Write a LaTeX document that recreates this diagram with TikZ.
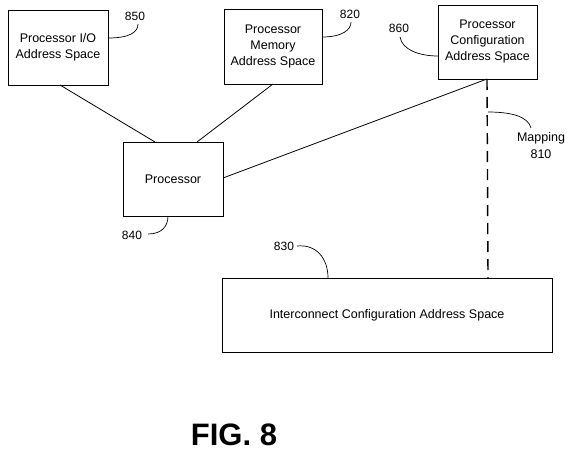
\documentclass[tikz,border=0pt]{standalone}
\usepackage{fontspec}
\setmainfont{Liberation Sans}
\begin{document}
\begin{tikzpicture}[x=1pt,y=-1pt,
  box/.style={draw,line width=0.8pt},
  lbl/.style={font=\fontsize{12.5}{16.3}\selectfont,align=center,inner sep=0pt},
  num/.style={font=\fontsize{12}{14}\selectfont,align=center,inner sep=0pt},
  conn/.style={line width=0.8pt},
  lead/.style={line width=0.7pt}]
\useasboundingbox (0,0) rectangle (569,455);
% boxes
\draw[box] (8,10) rectangle (108,85);
\node[lbl] (io) at (58,47) {Processor I/O\\Address Space};
\draw[box] (224,9) rectangle (322,84);
\node[lbl] (mem) at (273,46.5) {Processor\\Memory\\Address Space};
\draw[box] (438,5) rectangle (537,79);
\node[lbl] (cfg) at (487.5,41.5) {Processor\\Configuration\\Address Space};
\draw[box] (123,142) rectangle (223,216);
\node[lbl] (proc) at (173,179) {Processor};
\draw[box] (222,278) rectangle (552,352);
\node[lbl] (icfg) at (387,315) {Interconnect Configuration Address Space};
% named anchors
\coordinate (ioB) at (60,85);
\coordinate (memB) at (273,84);
\coordinate (cfgB) at (487,79);
\coordinate (procT1) at (155,142);
\coordinate (procT2) at (197,142);
\coordinate (procR) at (223,178);
\coordinate (icT) at (488,278);
% connectors
\draw[conn] (ioB) -- (procT1);
\draw[conn] (memB) -- (procT2);
\draw[conn] (procR) -- (cfgB);
\draw[line width=1.4pt,dash pattern=on 11pt off 7pt] (cfgB) -- (icT);
% reference labels
\node[num] (n850) at (135,16) {850};
\node[num] (n820) at (350,14) {820};
\node[num] (n860) at (399,28) {860};
\node[num] (n840) at (132,235) {840};
\node[num] (n830) at (284,246) {830};
\node[lbl] (n810) at (541,145.5) {Mapping\\810};
% leaders
\draw[lead] (108,38) .. controls (130,38) and (138,32) .. (138,24);
\draw[lead] (322,37) .. controls (342,37) and (351,30) .. (351,22);
\draw[lead] (400,37) .. controls (402,50) and (420,56) .. (438,56);
\draw[lead] (148,234) .. controls (162,234) and (168,226) .. (168,216);
\draw[lead] (297,246) .. controls (316,244) and (328,258) .. (328,278);
\draw[lead] (488,112) .. controls (510,112) and (528,116) .. (531,128);
% title
\node[font=\fontsize{31}{36}\selectfont\bfseries,inner sep=0pt] (fig) at (234,435) {FIG. 8};
\end{tikzpicture}
\end{document}
